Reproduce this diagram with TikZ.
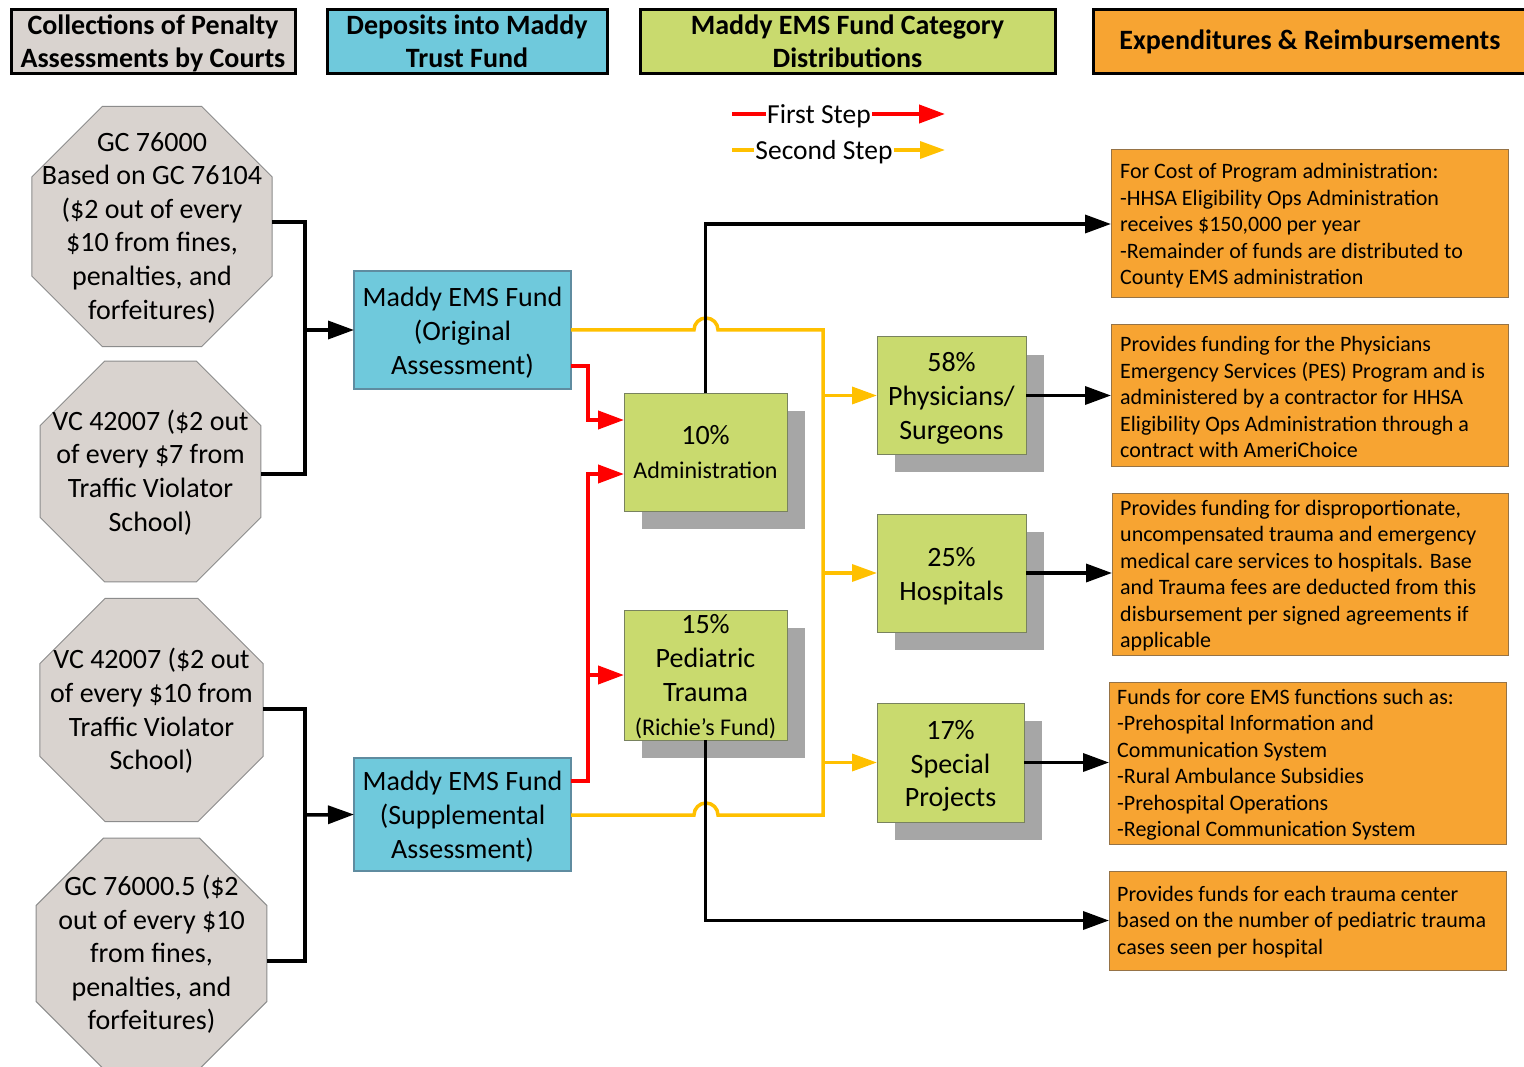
\documentclass[tikz,border=0pt]{standalone}
\usepackage{fontspec}
\setmainfont{Carlito}
\usetikzlibrary{arrows.meta,shapes.geometric,backgrounds,calc}
\definecolor{octfill}{RGB}{217,211,207}
\definecolor{octline}{RGB}{140,140,140}
\definecolor{bluefill}{RGB}{111,201,220}
\definecolor{blueline}{RGB}{95,140,160}
\definecolor{greenfill}{RGB}{201,218,110}
\definecolor{greenline}{RGB}{120,130,95}
\definecolor{shadowc}{RGB}{166,166,166}
\definecolor{orangefill}{RGB}{247,164,50}
\definecolor{orangeline}{RGB}{150,115,70}
\definecolor{yelc}{RGB}{255,192,0}
\definecolor{redc}{RGB}{255,0,0}
\begin{document}
\begin{tikzpicture}[x=1pt,y=-1pt,
  hdr/.style={draw=black, line width=3pt, minimum height=64pt, inner sep=0pt},
  hdrtext/.style={font=\fontsize{28}{33}\selectfont\bfseries, align=center, inner sep=0pt},
  oct/.style={regular polygon, regular polygon sides=8, fill=octfill, draw=octline, line width=1pt, inner sep=0pt, outer sep=0pt},
  octtext/.style={font=\fontsize{28}{33.6}\selectfont, align=center, inner sep=0pt},
  bluebox/.style={draw=blueline, fill=bluefill, line width=1.2pt, minimum width=217pt, inner sep=0pt, outer sep=0pt},
  gbox/.style={draw=greenline, fill=greenfill, line width=1pt, inner sep=0pt, outer sep=0pt},
  boxtext/.style={font=\fontsize{28}{33.8}\selectfont, align=center, inner sep=0pt},
  obox/.style={draw=orangeline, fill=orangefill, line width=1pt, inner sep=0pt, outer sep=0pt, minimum width=397pt},
  otext/.style={font=\fontsize{22}{26.5}\selectfont, align=left, anchor=west, inner sep=0pt},
  legtext/.style={font=\fontsize{27.5}{33}\selectfont, inner sep=1pt},
  blk/.style={draw=black, line width=3.5pt},
  blkar/.style={blk, -{Triangle[length=26pt,width=18pt]}},
  redl/.style={draw=redc, line width=4pt},
  redar/.style={redl, -{Triangle[length=26pt,width=18pt]}},
  yell/.style={draw=yelc, line width=3.5pt},
  yelar/.style={yell, -{Triangle[length=25pt,width=17pt]}}
]
\begin{scope}[on background layer]
\fill[white] (0,0) rectangle (1524,1067);
\end{scope}
\useasboundingbox (0,0) rectangle (1524,1067);

% headers
\node[hdr, fill=octfill, minimum width=284pt] (h1) at (153,42) {};
\node[hdrtext] (h1t) at ($(h1)+(0,1)$) {Collections of Penalty\\Assessments by Courts};
\node[hdr, fill=bluefill, minimum width=280pt] (h2) at (467,42) {};
\node[hdrtext] (h2t) at ($(h2)+(0,-1)$) {Deposits into Maddy\\Trust Fund};
\node[hdr, fill=greenfill, minimum width=415pt] (h3) at (847.5,42) {};
\node[hdrtext] (h3t) at ($(h3)+(0,-1)$) {Maddy EMS Fund Category\\Distributions};
\node[hdr, fill=orangefill, minimum width=434pt] (h4) at (1310,42) {};
\node[hdrtext] (h4t) at ($(h4)+(0,0)$) {Expenditures \& Reimbursements};

% legend
\node[legtext] (fs) at (819,116) {First Step};
\coordinate (fsa) at (732,114);
\coordinate (fsb) at (945,114);
\draw[redl] (fsa) -- (fsa -| fs.west);
\draw[redar] (fsa -| fs.east) -- (fsb);
\node[legtext] (ss) at (824,152) {Second Step};
\coordinate (ssa) at (732,150);
\coordinate (ssb) at (945,150);
\draw[yell] (ssa) -- (ssa -| ss.west);
\draw[yelar] (ssa -| ss.east) -- (ssb);

% octagons
\node[oct, minimum size=259.8pt] (o1) at (152,226.5) {};
\node[octtext] (t1) at ($(o1)+(0,1)$) {GC 76000\\Based on GC 76104\\(\$2 out of every\\\$10 from fines,\\penalties, and\\forfeitures)};
\node[oct, minimum size=239.2pt] (o2) at (150.5,471.5) {};
\node[octtext] (t2) at ($(o2)+(0,1)$) {VC 42007 (\$2 out\\of every \$7 from\\Traffic Violator\\School)};
\node[oct, minimum size=241.9pt] (o3) at (151.5,710) {};
\node[octtext] (t3) at ($(o3)+(0,1)$) {VC 42007 (\$2 out\\of every \$10 from\\Traffic Violator\\School)};
\node[oct, minimum size=250pt] (o4) at (151.5,953.5) {};
\node[octtext] (t4) at ($(o4)+(0,1)$) {GC 76000.5 (\$2\\out of every \$10\\from fines,\\penalties, and\\forfeitures)};

% blue boxes
\node[bluebox, minimum height=118pt] (b1) at (462.5,330) {};
\node[boxtext] (b1t) at ($(b1)+(0,2.5)$) {Maddy EMS Fund\\(Original\\Assessment)};
\node[bluebox, minimum height=113pt] (b2) at (462.5,814.5) {};
\node[boxtext] (b2t) at ($(b2)+(0,2)$) {Maddy EMS Fund\\(Supplemental\\Assessment)};

% green boxes
\node[gbox, minimum width=163pt, minimum height=118pt] (adm) at (705.5,452) {};
\node[boxtext] (admt) at (adm) {10\%\\{\fontsize{24}{28}\selectfont Administration}};
\node[gbox, minimum width=163pt, minimum height=130pt] (ped) at (705.5,675) {};
\node[boxtext] (pedt) at ($(ped)+(0,1.5)$) {15\%\\Pediatric\\Trauma\\{\fontsize{24}{28}\selectfont (Richie’s Fund)}};
\node[gbox, minimum width=149pt, minimum height=117pt] (phy) at (951.5,395.5) {};
\node[boxtext] (phyt) at ($(phy)+(0,3)$) {58\%\\Physicians/\\Surgeons};
\node[gbox, minimum width=149pt, minimum height=118pt] (hos) at (951.5,573) {};
\node[boxtext] (host) at ($(hos)+(0,3)$) {25\%\\Hospitals};
\node[gbox, minimum width=147pt, minimum height=119pt] (spe) at (950.5,762.5) {};
\node[boxtext] (spet) at ($(spe)+(0,3.5)$) {17\%\\Special\\Projects};

\begin{scope}[on background layer]
\foreach \n in {adm,ped,phy,hos,spe}
  \fill[shadowc] ($(\n.north west)+(18,18)$) rectangle ($(\n.south east)+(18,18)$);
\end{scope}

% orange boxes
\node[obox, minimum height=148pt] (ob1) at (1309.5,224) {};
\node[otext] (ot1) at ($(ob1.west)+(9,2)$) {For Cost of Program administration:\\-HHSA Eligibility Ops Administration\\receives \$150,000 per year\\-Remainder of funds are distributed to\\County EMS administration};
\node[obox, minimum height=141pt] (ob2) at (1309.5,395.5) {};
\node[otext] (ot2) at ($(ob2.west)+(9,1.5)$) {Provides funding for the Physicians\\Emergency Services (PES) Program and is\\administered by a contractor for HHSA\\Eligibility Ops Administration through a\\contract with AmeriChoice};
\node[obox, minimum width=396pt, minimum height=162pt] (ob3) at (1310,574) {};
\node[otext] (ot3) at ($(ob3.west)+(8,1.5)$) {Provides funding for disproportionate,\\uncompensated trauma and emergency\\medical care services to hospitals. Base\\and Trauma fees are deducted from this\\disbursement per signed agreements if\\applicable};
\node[obox, minimum height=162pt] (ob4) at (1307.5,763) {};
\node[otext] (ot4) at ($(ob4.west)+(8,1.5)$) {Funds for core EMS functions such as:\\-Prehospital Information and\\Communication System\\-Rural Ambulance Subsidies\\-Prehospital Operations\\-Regional Communication System};
\node[obox, minimum height=99pt] (ob5) at (1307.5,920.5) {};
\node[otext] (ot5) at ($(ob5.west)+(8,1.5)$) {Provides funds for each trauma center\\based on the number of pediatric trauma\\cases seen per hospital};

% junction coordinates
\coordinate (jA) at (305,330);
\coordinate (jB) at (305,815);
\coordinate (rx) at (588,0);
\coordinate (yx) at (823,0);

% black input connectors
\draw[blk] (o1.east |- 0,222) -- (jA |- 0,222) -- (jA |- 0,474) -- (o2.east |- 0,474);
\draw[blkar] (jA) -- (b1.west);
\draw[blk] (o3.east |- 0,709) -- (jB |- 0,709) -- (jB |- 0,961) -- (o4.east |- 0,961);
\draw[blkar] (jB) -- (b2.west);

% yellow (second step)
\draw[yell] (b1.east |- 0,330) -- (694,330) arc[start angle=180, end angle=360, radius=12] -- (yx |- 0,330) -- (yx |- 0,815) -- (718,815) arc[start angle=0, end angle=-180, radius=12] -- (b2.east |- 0,815);
\draw[yelar] (yx |- phy.west) -- (phy.west);
\draw[yelar] (yx |- hos.west) -- (hos.west);
\draw[yelar] (yx |- spe.west) -- (spe.west);

% red (first step)
\draw[redar] (b1.east |- 0,366) -- (rx |- 0,366) |- (adm.west |- 0,420);
\draw[redar] (b2.east |- 0,781) -- (rx |- 0,781) |- (adm.west |- 0,474);
\draw[redar] (rx |- ped.west) -- (ped.west);

% black output connectors
\draw[blkar] (adm.north) |- (ob1.west);
\draw[blkar] (phy.east) -- (phy.east -| ob2.west);
\draw[blkar] (hos.east) -- (hos.east -| ob3.west);
\draw[blkar] (spe.east) -- (spe.east -| ob4.west);
\draw[blkar] (ped.south) |- (ob5.west);
\end{tikzpicture}
\end{document}
